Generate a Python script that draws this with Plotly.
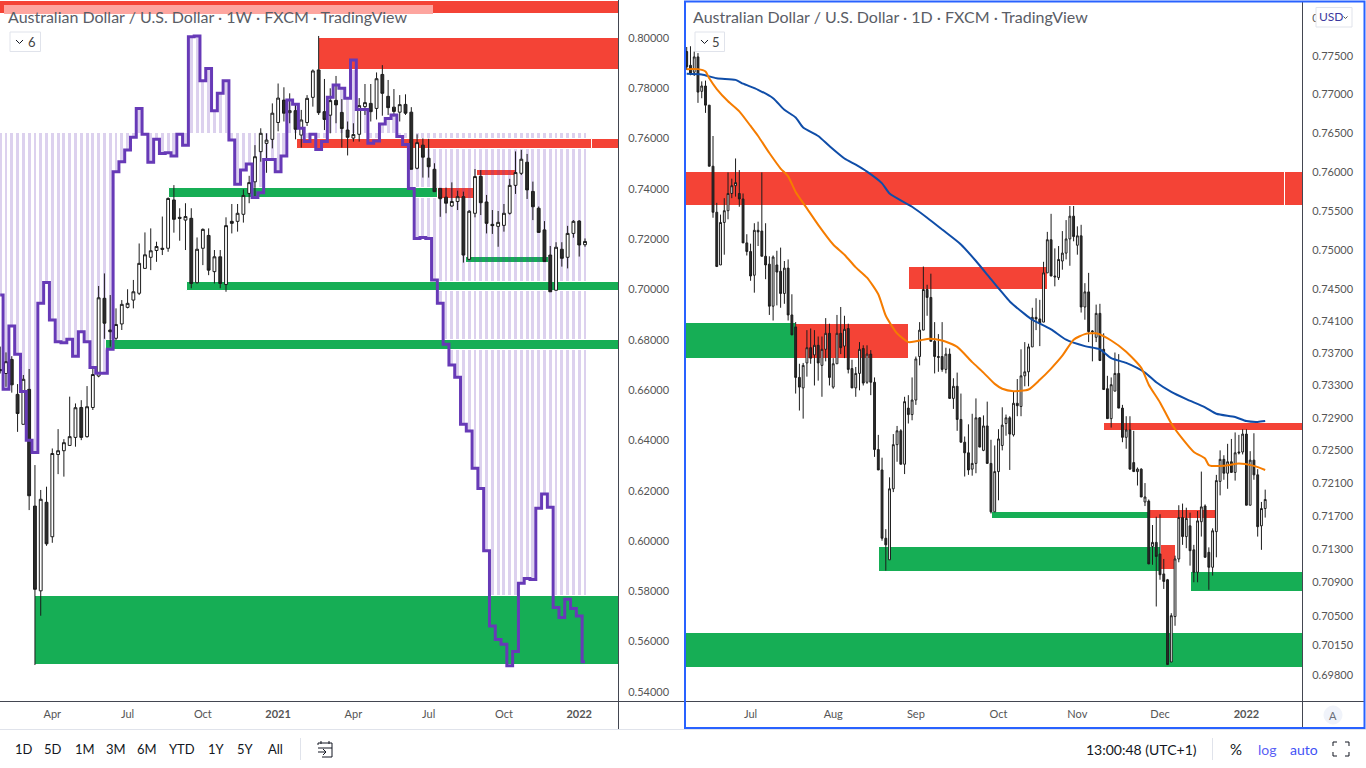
import math
import plotly.graph_objects as go

# ---------- weekly pane data ----------
week_high = [.6773,.6750,.6735,.6624,.6660,.6684,.6302,.6203,.6216,.6368,.6445,.6405,.6574,.6547,.6560,.6616,.6686,.7014,.7064,.6978,
 .6925,.6958,.7001,.7038,.7183,.7227,.7243,.7190,.7290,.7366,.7415,.7323,.7343,.7323,.7207,.7243,.7243,.7157,.7157,.7287,
 .7340,.7340,.7398,.7452,.7574,.7641,.7621,.7740,.7819,.7804,.7780,.7741,.7714,.7773,.7875,.8008,.7837,.7800,.7849,.7757,
 .7668,.7661,.7761,.7817,.7817,.7863,.7892,.7833,.7797,.7773,.7776,.7725,.7617,.7601,.7599,.7502,.7402,.7405,.7426,.7393,
 .7389,.7316,.7479,.7475,.7376,.7316,.7312,.7340,.7440,.7549,.7555,.7539,.7429,.7330,.7272,.7173,.7188,.7188,.7253,.7276,.7276,.7203]
week_top = [.6682,.6713,.6722,.6583,.6643,.6603,.6139,.6166,.6154,.6348,.6359,.6391,.6415,.6530,.6531,.6534,.6662,.6967,.6965,.6839,
 .6861,.6941,.6945,.6991,.7104,.7138,.7154,.7171,.7164,.7362,.7356,.7287,.7290,.7283,.7160,.7239,.7215,.7130,.7130,.7254,
 .7271,.7303,.7374,.7425,.7528,.7621,.7594,.7701,.7761,.7753,.7711,.7711,.7674,.7760,.7869,.7873,.7707,.7751,.7752,.7704,
 .7634,.7616,.7731,.7743,.7740,.7838,.7855,.7768,.7725,.7735,.7736,.7705,.7584,.7574,.7522,.7478,.7402,.7367,.7350,.7369,
 .7369,.7311,.7449,.7450,.7348,.7259,.7267,.7303,.7414,.7465,.7518,.7506,.7390,.7323,.7237,.7137,.7168,.7160,.7223,.7271,.7272,.7191]
week_bottom = [.6677,.6666,.6621,.6507,.6464,.6180,.5808,.5802,.5989,.6017,.6344,.6359,.6380,.6412,.6412,.6415,.6531,.6656,.6866,.6832,
 .6806,.6863,.6929,.6958,.6985,.7084,.7128,.7155,.7160,.7164,.7279,.7283,.7276,.7024,.7027,.7164,.7077,.7071,.7024,.7020,
 .7263,.7271,.7299,.7382,.7428,.7548,.7581,.7597,.7664,.7701,.7703,.7637,.7614,.7664,.7764,.7703,.7676,.7693,.7734,.7640,
 .7605,.7602,.7617,.7727,.7707,.7720,.7780,.7723,.7708,.7705,.7701,.7478,.7482,.7526,.7488,.7389,.7361,.7343,.7332,.7350,
 .7137,.7120,.7303,.7345,.7263,.7254,.7251,.7255,.7303,.7414,.7462,.7396,.7329,.7227,.7111,.6991,.6997,.7124,.7128,.7223,.7177,.7178]
week_low = [.6666,.6613,.6590,.6434,.6464,.6123,.5507,.5703,.5981,.5993,.6266,.6256,.6380,.6375,.6401,.6411,.6521,.6651,.6804,.6773,
 .6799,.6839,.6925,.6925,.6978,.7084,.7077,.7110,.7137,.7150,.7226,.7194,.7157,.7005,.7024,.7097,.7057,.7024,.7005,.6991,
 .7223,.7230,.7266,.7343,.7369,.7508,.7464,.7561,.7629,.7668,.7661,.7597,.7564,.7650,.7727,.7694,.7634,.7621,.7661,.7564,
 .7533,.7588,.7588,.7694,.7668,.7676,.7691,.7694,.7688,.7668,.7694,.7478,.7478,.7445,.7445,.7389,.7289,.7303,.7329,.7316,
 .7107,.7117,.7287,.7296,.7223,.7221,.7170,.7230,.7298,.7380,.7455,.7360,.7276,.7227,.7111,.6991,.6995,.7091,.7084,.7206,.7131,.7170]
week_dir = ("DWDDWDDWDW" "WWWWDWWWDD" "WWWWWWWWDW" "DDWDWWDWDW" "DWWWWWWWWD"
            "WDWWWDDWDD" "DWWWDWDDDW" "DDWDDDDDWW" "DWWDDDWWWW" "WDDDDDWDWW" "DW")
purple_cot = [.6978,.6603,.6855,.6743,.6594,.6401,.6352,.6945,.7028,.6879,.6792,.6788,.6802,.6735,.6832,.6792,.6690,.6667,.6667,.6762,
 .7468,.7508,.7555,.7605,.7720,.7617,.7506,.7597,.7541,.7544,.7531,.7617,.7574,.8005,.8008,.7830,.7879,.7711,.7780,.7830,
 .7594,.7418,.7475,.7499,.7366,.7385,.7517,.7517,.7468,.7531,.7753,.7737,.7641,.7588,.7617,.7557,.7588,.7764,.7813,.7800,
 .7760,.7912,.7716,.7716,.7581,.7590,.7658,.7680,.7694,.7608,.7577,.7402,.7203,.7207,.7203,.7038,.6945,.6782,.6700,.6651,
 .6464,.6437,.6289,.6209,.5961,.5662,.5609,.5590,.5504,.5561,.5832,.5851,.5847,.6130,.6187,.6134,.5736,.5696,.5769,.5732,.5702,.5520]
cot_base = 0.7622
week_ticks = [9, 22, 35, 48, 61, 74, 87, 100]
week_tick_text = ["Apr", "Jul", "Oct", "<b>2021</b>", "Apr", "Jul", "Oct", "<b>2022</b>"]
week_price_ticks = [.80,.78,.76,.74,.72,.70,.68,.66,.64,.62,.60,.58,.56,.54]

# zones: start, end (week index), low, high, colour
wz_under = [(75.6,81.66,.7364,.7403,"#f44336"),(82.3,88.9,.7455,.7475,"#f44336"),(80.45,94.6,.7110,.7129,"#16ae55")]
wz_over = [(-1,107,.8095,.8147,"#f44336"),(55.06,107,.7873,.8000,"#f44336"),(51.26,102.2,.7558,.7598,"#f44336"),
 (102.2,107,.7558,.7598,"#f44336"),(29.15,75.6,.7364,.7403,"#16ae55"),(32.26,107,.6994,.7030,"#16ae55"),
 (18.27,107,.6759,.6799,"#16ae55"),(6.0,107,.5507,.5781,"#16ae55")]
wz_title = (0.66,74.75,.8095,.8131,"#fda59f")

# ---------- daily pane data ----------
day_high = [.7762,.7763,.7756,.7754,.7717,.7718,.7686,.7646,.7560,.7545,.7566,.7599,.7591,.7617,.7602,.7572,.7520,.7508,.7534,.7536,
 .7599,.7534,.7492,.7493,.7499,.7503,.7486,.7488,.7444,.7409,.7357,.7358,.7399,.7401,.7399,.7391,.7391,.7414,.7407,.7364,
 .7418,.7428,.7417,.7407,.7362,.7353,.7384,.7380,.7380,.7374,.7340,.7269,.7241,.7154,.7217,.7270,.7280,.7276,.7316,.7318,
 .7340,.7366,.7409,.7479,.7456,.7470,.7409,.7394,.7409,.7377,.7376,.7339,.7346,.7320,.7267,.7282,.7295,.7314,.7291,.7293,
 .7310,.7263,.7256,.7276,.7303,.7294,.7292,.7323,.7338,.7375,.7384,.7382,.7427,.7439,.7437,.7485,.7523,.7546,.7502,.7505,
 .7524,.7538,.7556,.7556,.7530,.7532,.7458,.7471,.7399,.7431,.7432,.7395,.7342,.7340,.7371,.7369,.7306,.7292,.7292,.7274,
 .7229,.7228,.7210,.7190,.7159,.7169,.7172,.7118,.7094,.7053,.7122,.7183,.7185,.7180,.7174,.7135,.7176,.7224,.7184,.7132,
 .7155,.7220,.7250,.7244,.7258,.7264,.7272,.7269,.7276,.7276,.7249,.7271,.7227,.7187,.7202]
day_top = [.7756,.7738,.7749,.7749,.7711,.7711,.7686,.7607,.7548,.7535,.7550,.7572,.7582,.7586,.7572,.7565,.7509,.7498,.7525,.7525,
 .7524,.7492,.7482,.7491,.7481,.7473,.7477,.7477,.7418,.7403,.7340,.7355,.7377,.7377,.7380,.7380,.7375,.7395,.7395,.7357,
 .7395,.7395,.7400,.7401,.7351,.7345,.7375,.7376,.7369,.7369,.7334,.7251,.7226,.7143,.7203,.7257,.7274,.7274,.7310,.7302,
 .7312,.7363,.7399,.7450,.7450,.7440,.7385,.7366,.7366,.7369,.7369,.7329,.7329,.7288,.7260,.7247,.7234,.7290,.7290,.7280,
 .7280,.7234,.7224,.7264,.7281,.7290,.7290,.7308,.7308,.7342,.7347,.7378,.7415,.7415,.7413,.7471,.7513,.7513,.7467,.7488,
 .7496,.7514,.7543,.7543,.7518,.7518,.7447,.7447,.7398,.7420,.7420,.7375,.7326,.7331,.7345,.7345,.7302,.7275,.7275,.7235,
 .7227,.7227,.7193,.7188,.7138,.7138,.7124,.7100,.7093,.7050,.7118,.7168,.7168,.7167,.7158,.7129,.7164,.7181,.7182,.7126,
 .7152,.7213,.7239,.7239,.7236,.7236,.7247,.7248,.7270,.7270,.7238,.7238,.7220,.7179,.7190]
day_bottom = [.7736,.7727,.7729,.7703,.7704,.7686,.7607,.7548,.7479,.7481,.7535,.7550,.7572,.7582,.7565,.7509,.7498,.7467,.7468,.7523,
 .7492,.7481,.7429,.7429,.7472,.7445,.7445,.7418,.7393,.7340,.7328,.7327,.7358,.7364,.7368,.7358,.7355,.7375,.7340,.7328,
 .7357,.7377,.7379,.7350,.7327,.7327,.7345,.7333,.7334,.7334,.7251,.7226,.7143,.7135,.7117,.7203,.7257,.7233,.7233,.7294,
 .7294,.7312,.7366,.7399,.7440,.7385,.7366,.7365,.7350,.7350,.7314,.7314,.7288,.7260,.7247,.7226,.7227,.7234,.7254,.7250,
 .7234,.7175,.7175,.7224,.7256,.7283,.7270,.7269,.7305,.7304,.7342,.7347,.7378,.7413,.7408,.7409,.7471,.7467,.7466,.7465,
 .7486,.7496,.7514,.7517,.7506,.7428,.7428,.7397,.7397,.7390,.7361,.7325,.7289,.7289,.7323,.7302,.7266,.7266,.7227,.7224,
 .7224,.7193,.7187,.7112,.7133,.7121,.7099,.7091,.6992,.6995,.7049,.7118,.7145,.7145,.7128,.7102,.7102,.7163,.7120,.7108,
 .7108,.7151,.7212,.7222,.7222,.7223,.7223,.7247,.7248,.7183,.7183,.7220,.7157,.7158,.7179]
day_low = [.7732,.7725,.7724,.7689,.7695,.7676,.7607,.7541,.7479,.7481,.7494,.7539,.7566,.7568,.7555,.7509,.7493,.7461,.7446,.7505,
 .7492,.7463,.7418,.7411,.7430,.7427,.7432,.7411,.7393,.7320,.7299,.7289,.7341,.7357,.7330,.7336,.7316,.7360,.7330,.7326,
 .7357,.7369,.7364,.7345,.7327,.7316,.7324,.7330,.7332,.7318,.7242,.7226,.7140,.7104,.7117,.7199,.7236,.7233,.7221,.7283,
 .7287,.7306,.7355,.7399,.7417,.7385,.7345,.7347,.7347,.7345,.7314,.7301,.7274,.7260,.7218,.7220,.7219,.7222,.7254,.7249,
 .7234,.7173,.7175,.7189,.7250,.7268,.7226,.7267,.7292,.7292,.7329,.7329,.7378,.7399,.7379,.7409,.7471,.7467,.7454,.7462,
 .7475,.7488,.7480,.7511,.7494,.7421,.7412,.7384,.7360,.7384,.7361,.7325,.7289,.7278,.7323,.7302,.7260,.7252,.7227,.7224,
 .7207,.7193,.7182,.7112,.7111,.7061,.7093,.7082,.6992,.6995,.7038,.7114,.7135,.7131,.7110,.7090,.7090,.7145,.7120,.7081,
 .7098,.7120,.7195,.7214,.7203,.7223,.7213,.7245,.7245,.7183,.7183,.7214,.7145,.7129,.7168]
day_dir = ("DDWDWDDDDW" "WWWWDDDDWD" "DDDWDDWDDD" "DWWDWDWWDW" "WDWDDWWDWD" "DDDDWWWDWD" "WWWWDDDDDW" "DWDDDDWWDW"
           "DDWWWWDWDW" "WWWDDWWDDW" "WWWDWDWDDW" "DDDWWDDWDD" "WDWDWDDDDW" "WWDWDDWWDD" "WWWDWDWDWD" "WDDWW")
sma_days = [0,4,8,13,15,19,23,26,29,31,35,38,42,45,48,52,54,60,64,68,73,77,81,84,86,90,92,97,101,106,110,113,117,122,125,129,133,138,141,146,149,152,154]
sma_blue = [.7727,.7726,.7721,.7719,.7714,.7706,.7695,.7680,.7670,.7657,.7646,.7633,.7617,.7609,.7600,.7585,.7572,.7555,.7541,.7526,.7507,.7486,.7463,.7446,.7435,.7419,.7412,.7400,.7387,.7379,.7375,.7364,.7358,.7346,.7334,.7322,.7313,.7303,.7295,.7291,.7286,.7285,.7286]
ema_days = [0,3,5,6,8,11,14,17,19,22,25,27,29,32,35,39,42,45,48,51,53,56,59,61,64,68,72,76,79,82,84,87,91,94,97,100,103,106,109,113,117,121,123,126,129,132,135,138,139,143,147,151,154]
ema_orange = [.7733,.7733,.7730,.7721,.7707,.7691,.7678,.7659,.7646,.7624,.7604,.7594,.7574,.7553,.7532,.7507,.7494,.7478,.7465,.7444,.7417,.7395,.7384,.7385,.7388,.7386,.7378,.7359,.7346,.7332,.7326,.7323,.7325,.7337,.7351,.7367,.7387,.7394,.7395,.7386,.7372,.7352,.7331,.7309,.7283,.7264,.7248,.7240,.7232,.7231,.7234,.7231,.7226]
day_ticks = [17, 39, 61, 83, 104, 126, 149]
day_tick_text = ["Jul", "Aug", "Sep", "Oct", "Nov", "Dec", "<b>2022</b>"]
day_price_ticks = [.78,.775,.77,.765,.76,.755,.75,.745,.741,.737,.733,.729,.725,.721,.717,.713,.709,.705,.7015,.698]
dz = [(-1,159,.7557,.7599,"#f44336"),(159.3,170,.7557,.7599,"#f44336"),(59.2,95.9,.7451,.7478,"#f44336"),
 (-1,28.8,.7364,.7408,"#16ae55"),(29.0,58.9,.7364,.7407,"#f44336"),(111.1,170,.7275,.7284,"#f44336"),
 (81.3,122.7,.7168,.7175,"#16ae55"),(123,140.8,.7168,.7177,"#f44336"),(51.2,126,.7104,.7132,"#16ae55"),
 (126.2,130,.7106,.7135,"#f44336"),(134.2,170,.7080,.7102,"#16ae55"),(-1,170,.6989,.7029,"#16ae55")]

# ---------- helpers ----------
W, H = 1366, 768
FONT = "Lato"
def fx(x): return x / W
def fy(y): return 1 - y / H

def zone_bar(z, xa, ya, border=False):
    a, b, lo, hi, col = z
    return go.Bar(x=[(a + b) / 2], y=[hi - lo], base=[lo], width=[b - a], xaxis=xa, yaxis=ya,
                  marker=dict(color=col, line=dict(color="white", width=1 if border else 0)),
                  hoverinfo="skip", showlegend=False)

def candles(n, high, top, bot, low, dirs, xa, ya):
    opn = [bot[i] if dirs[i] == "W" else top[i] for i in range(n)]
    cls = [top[i] if dirs[i] == "W" else bot[i] for i in range(n)]
    return go.Candlestick(x=list(range(n)), open=opn, high=high[:n], low=low[:n], close=cls, xaxis=xa, yaxis=ya,
                          whiskerwidth=0, hoverinfo="skip", showlegend=False,
                          increasing=dict(fillcolor="#ffffff", line=dict(color="#1c1c1c", width=1)),
                          decreasing=dict(fillcolor="#2b2b2b", line=dict(color="#1c1c1c", width=1)))

fig = go.Figure()
for z in wz_under:
    fig.add_trace(zone_bar(z, "x", "y"))
fig.add_trace(go.Bar(x=list(range(len(purple_cot))), y=[v - cot_base for v in purple_cot], base=[cot_base] * len(purple_cot),
                     width=0.5, marker=dict(color="rgba(103,58,183,0.23)", line=dict(width=0)), hoverinfo="skip", showlegend=False))
for z in wz_over:
    fig.add_trace(zone_bar(z, "x", "y", border=True))
fig.add_trace(zone_bar(wz_title, "x", "y"))
fig.add_trace(candles(len(week_high), week_high, week_top, week_bottom, week_low, week_dir, "x", "y"))
fig.add_trace(go.Scatter(x=list(range(len(purple_cot))), y=purple_cot, mode="lines", line=dict(color="#673ab7", width=3, shape="hvh"),
                         hoverinfo="skip", showlegend=False))

for z in dz:
    fig.add_trace(zone_bar(z, "x2", "y2"))
fig.add_trace(candles(len(day_high), day_high, day_top, day_bottom, day_low, day_dir, "x2", "y2"))
fig.add_trace(go.Scatter(x=sma_days, y=sma_blue, xaxis="x2", yaxis="y2", mode="lines",
                         line=dict(color="#0f4da8", width=2, shape="spline", smoothing=0.6), hoverinfo="skip", showlegend=False))
fig.add_trace(go.Scatter(x=ema_days, y=ema_orange, xaxis="x2", yaxis="y2", mode="lines",
                         line=dict(color="#f57c00", width=2, shape="spline", smoothing=0.6), hoverinfo="skip", showlegend=False))

AX = "#434651"
tickf = dict(family=FONT, size=11, color="#555555")
shapes = []
def line(x0, y0, x1, y1, color=AX, width=1):
    shapes.append(dict(type="line", xref="paper", yref="paper", x0=fx(x0), y0=fy(y0), x1=fx(x1), y1=fy(y1),
                       line=dict(color=color, width=width)))
def rect(x0, y0, x1, y1, color="#e0e3eb", fill="white", width=1, kind="rect"):
    shapes.append(dict(type=kind, xref="paper", yref="paper", x0=fx(x0), y0=fy(y0), x1=fx(x1), y1=fy(y1),
                       line=dict(color=color, width=width), fillcolor=fill))
def path(points, color="#131722", width=1):
    d = "M" + " L".join(f"{fx(x):.5f},{fy(y):.5f}" for x, y in points)
    shapes.append(dict(type="path", xref="paper", yref="paper", path=d, line=dict(color=color, width=width)))

# pane frames
line(618.5, 0, 618.5, 729)
line(0, 701.5, 684, 701.5)
line(0, 729.5, 1366, 729.5, "#e0e3eb")
line(1302.5, 2, 1302.5, 728)
line(686, 701.5, 1364, 701.5)
rect(685, 1.5, 1364.5, 728, "#2962ff", "rgba(0,0,0,0)", 2)
# legend buttons
rect(10, 32, 40.5, 51.5); path([(16, 40), (19.5, 43.5), (23, 40)])
rect(695, 32, 724.5, 51.5); path([(701, 40), (704.5, 43.5), (708, 40)])
rect(1316, 7.5, 1352, 27)
path([(1343.5, 16.5), (1345.5, 18.5), (1347.5, 16.5)], "#555555")
rect(1324, 706, 1342, 724, "#f0f3fa", "#f0f3fa", 1, "circle")
# bottom toolbar
line(300.5, 738, 300.5, 760, "#e0e3eb")
line(1212.5, 738, 1212.5, 760, "#e0e3eb")
path([(318, 745), (318, 743), (332, 743), (332, 757), (322, 757)])
path([(318, 748), (332, 748)])
path([(321, 741), (321, 744)]); path([(329, 741), (329, 744)])
path([(318, 752), (326, 752)]); path([(323, 749), (326, 752), (323, 755)])
for pts in ([(1333, 746), (1333, 742), (1337, 742)], [(1345, 742), (1349, 742), (1349, 746)],
            [(1349, 752), (1349, 756), (1345, 756)], [(1337, 756), (1333, 756), (1333, 752)]):
    path(pts)

notes = []
def text(x, y, s, size=13, color="#131722", anchor="center", family=FONT):
    notes.append(dict(xref="paper", yref="paper", x=fx(x), y=fy(y), text=s, showarrow=False, xanchor=anchor, yanchor="middle",
                      font=dict(family=family, size=size, color=color)))
TITLE_L = "Australian Dollar / U.S. Dollar · 1W · FXCM · TradingView"
TITLE_R = "Australian Dollar / U.S. Dollar · 1D · FXCM · TradingView"
text(6, 17, TITLE_L, 16, "#5a5d66", "left")
text(691, 17, TITLE_R, 16, "#5a5d66", "left")
text(32, 41.5, "6", 13, "#444444"); text(716, 41.5, "5", 13, "#444444")
text(1330.5, 17, "USD", 12, "#3d3a9e")
text(1333, 715, "A", 11, "#6a6d78")
for x, s in [(24, "1D"), (53, "5D"), (85, "1M"), (116, "3M"), (147, "6M"), (182, "YTD"), (216, "1Y"), (245, "5Y"), (275, "All")]:
    text(x, 749, s, 13)
text(1141, 749, "13:00:48 (UTC+1)", 14)
text(1236, 749, "%", 15)
text(1267, 749, "log", 14, "#5a5ff5")
text(1304, 749, "auto", 14, "#3f51f5")

# the 0.78 label on the daily scale is covered by the USD button, only its first digit shows
day_price_text = ["0" if v == .78 else f"{v:.5f}" for v in day_price_ticks]

fig.update_layout(
    width=W, height=H, autosize=False, margin=dict(l=0, r=0, t=0, b=0), paper_bgcolor="white", plot_bgcolor="rgba(0,0,0,0)",
    barmode="overlay", bargap=0, showlegend=False, shapes=shapes, annotations=notes, dragmode=False,
    xaxis=dict(domain=[0, fx(618)], range=[-0.035, 106.7], anchor="y", tickmode="array", tickvals=week_ticks, ticktext=week_tick_text,
               tickfont=tickf, ticks="outside", ticklen=3, tickcolor="rgba(0,0,0,0)", showgrid=False, zeroline=False,
               showline=False, rangeslider=dict(visible=False)),
    yaxis=dict(domain=[fy(701), 1], range=[0.5364, 0.8151], anchor="x", side="right", tickmode="array", tickvals=week_price_ticks,
               ticktext=[f"{v:.5f}" for v in week_price_ticks], tickfont=tickf, ticks="outside", ticklen=7,
               tickcolor="rgba(0,0,0,0)", showgrid=False, zeroline=False, showline=False),
    xaxis2=dict(domain=[fx(686), fx(1302)], range=[-0.19, 163.8], anchor="y2", tickmode="array", tickvals=day_ticks, ticktext=day_tick_text,
                tickfont=tickf, ticks="outside", ticklen=3, tickcolor="rgba(0,0,0,0)", showgrid=False, zeroline=False,
                showline=False, rangeslider=dict(visible=False)),
    yaxis2=dict(domain=[fy(701), fy(3)], type="log", range=[math.log10(0.6949), math.log10(0.7820)], anchor="x2", side="right",
                tickmode="array", tickvals=day_price_ticks, ticktext=day_price_text, tickfont=tickf,
                ticks="outside", ticklen=7, tickcolor="rgba(0,0,0,0)", showgrid=False, zeroline=False, showline=False),
)
fig.write_html("out.html", config=dict(displayModeBar=False, responsive=False),
               post_script="document.body.style.margin='0';document.documentElement.style.overflow='hidden';")
